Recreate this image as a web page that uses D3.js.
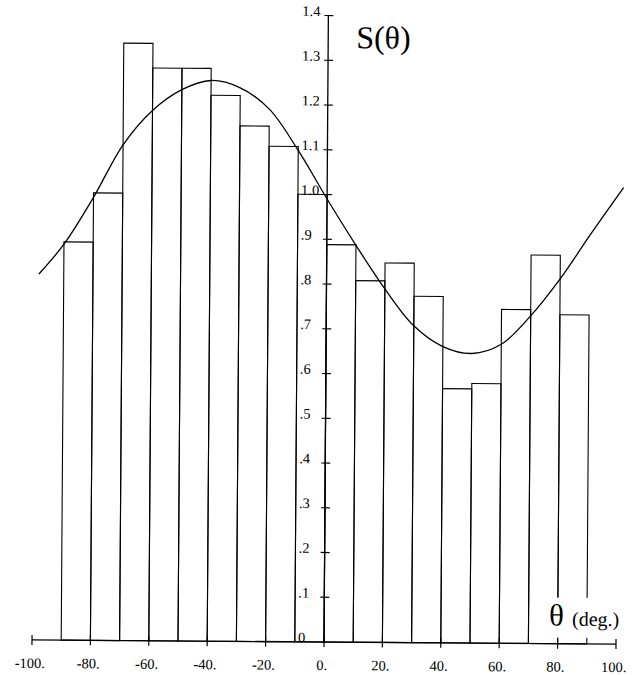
<!DOCTYPE html>
<html>
<head>
<meta charset="utf-8">
<script src="https://cdn.jsdelivr.net/npm/d3@7"></script>
<style>
  html, body { margin: 0; padding: 0; background: #fff; }
  svg { display: block; }
  text { font-family: "Liberation Serif", "DejaVu Serif", serif; fill: #000; }
</style>
</head>
<body>
<svg id="chart" width="632" height="675"></svg>
<script>
// Histogram bins (left edge, degrees) and their heights
const binLeft = [-90, -80, -70, -60, -50, -40, -30, -20, -10, 0, 10, 20, 30, 40, 50, 60, 70, 80];
const binWidth = 10;
const barValues = [0.89, 1.00, 1.335, 1.28, 1.28, 1.22, 1.152, 1.107, 1.0, 0.888, 0.808, 0.848, 0.774, 0.568, 0.58, 0.746, 0.868, 0.735];

// Smooth fitted curve S(theta), sampled points
const curveTheta = [-98.5, -90, -80, -70, -60, -50, -40, -30, -20, -10, 0, 10, 20, 30, 40, 50, 60, 70, 80, 90, 101.5];
const curveValues = [0.818, 0.885, 0.99, 1.108, 1.185, 1.232, 1.253, 1.237, 1.19, 1.098, 0.99, 0.887, 0.79, 0.708, 0.662, 0.647, 0.668, 0.732, 0.815, 0.912, 1.02];

// Axis ticks and their labels
const xTicks = [-100, -80, -60, -40, -20, 0, 20, 40, 60, 80, 100];
const xTickLabels = ["-100.", "-80.", "-60.", "-40.", "-20.", "0.", "20.", "40.", "60.", "80.", "100."];
const yTicks = [0, 0.1, 0.2, 0.3, 0.4, 0.5, 0.6, 0.7, 0.8, 0.9, 1.0, 1.1, 1.2, 1.3, 1.4];
const yTickLabels = ["0", ".1", ".2", ".3", ".4", ".5", ".6", ".7", ".8", ".9", "1.0", "1.1", "1.2", "1.3", "1.4"];

const svg = d3.select("#chart");

const x = d3.scaleLinear().domain([-100, 100]).range([32, 616]);
const y = d3.scaleLinear().domain([0, 1.4]).range([642, 15.5]);

// whole plot is drawn slightly skewed, as on the printed page
const g = svg.append("g")
  .attr("transform", `rotate(0.4, ${x(0)}, ${y(0)})`);

// bars
g.append("g")
  .selectAll("rect")
  .data(binLeft)
  .join("rect")
  .attr("x", (d) => x(d))
  .attr("y", (d, i) => y(barValues[i]))
  .attr("width", (d) => x(d + binWidth) - x(d))
  .attr("height", (d, i) => y(0) - y(barValues[i]))
  .attr("fill", "none")
  .attr("stroke", "#000")
  .attr("stroke-width", 1.1);

// fitted curve
const line = d3.line()
  .x((d) => x(d))
  .y((d, i) => y(curveValues[i]))
  .curve(d3.curveCatmullRom.alpha(0.5));

g.append("path")
  .attr("d", line(curveTheta))
  .attr("fill", "none")
  .attr("stroke", "#000")
  .attr("stroke-width", 1.3);

// white box behind the x-axis title
g.append("rect")
  .attr("x", 546)
  .attr("y", 596)
  .attr("width", 90)
  .attr("height", 40)
  .attr("fill", "#fff");

// x axis
g.append("line")
  .attr("x1", x(-100)).attr("x2", x(100))
  .attr("y1", y(0)).attr("y2", y(0))
  .attr("stroke", "#000").attr("stroke-width", 1.3);

g.append("g")
  .selectAll("line")
  .data(xTicks)
  .join("line")
  .attr("x1", (d) => x(d)).attr("x2", (d) => x(d))
  .attr("y1", y(0) - 5).attr("y2", y(0) + 5)
  .attr("stroke", "#000").attr("stroke-width", 1.2);

g.append("g")
  .selectAll("text")
  .data(xTicks)
  .join("text")
  .attr("x", (d) => x(d) - 2)
  .attr("y", y(0) + 28)
  .attr("text-anchor", "middle")
  .attr("font-size", 14.5)
  .text((d, i) => xTickLabels[i]);

// y axis
g.append("line")
  .attr("x1", x(0)).attr("x2", x(0))
  .attr("y1", y(0)).attr("y2", y(1.4))
  .attr("stroke", "#000").attr("stroke-width", 1.3);

g.append("g")
  .selectAll("line")
  .data(yTicks.filter((d) => d > 0))
  .join("line")
  .attr("x1", x(0) - 4).attr("x2", x(0) + 5)
  .attr("y1", (d) => y(d)).attr("y2", (d) => y(d))
  .attr("stroke", "#000").attr("stroke-width", 1.2);

g.append("g")
  .selectAll("text")
  .data(yTicks)
  .join("text")
  .attr("x", x(0) - 26)
  .attr("y", (d) => y(d) + 0.5)
  .attr("font-size", 14.5)
  .text((d, i) => yTickLabels[i]);

// axis titles
g.append("text")
  .attr("x", 352)
  .attr("y", 48)
  .attr("font-size", 32)
  .text("S(θ)");

const xt = g.append("text")
  .attr("x", 549)
  .attr("y", 624);
xt.append("tspan").attr("font-size", 31).text("θ");
xt.append("tspan").attr("font-size", 20).attr("dx", 8).text("(deg.)");
</script>
</body>
</html>
